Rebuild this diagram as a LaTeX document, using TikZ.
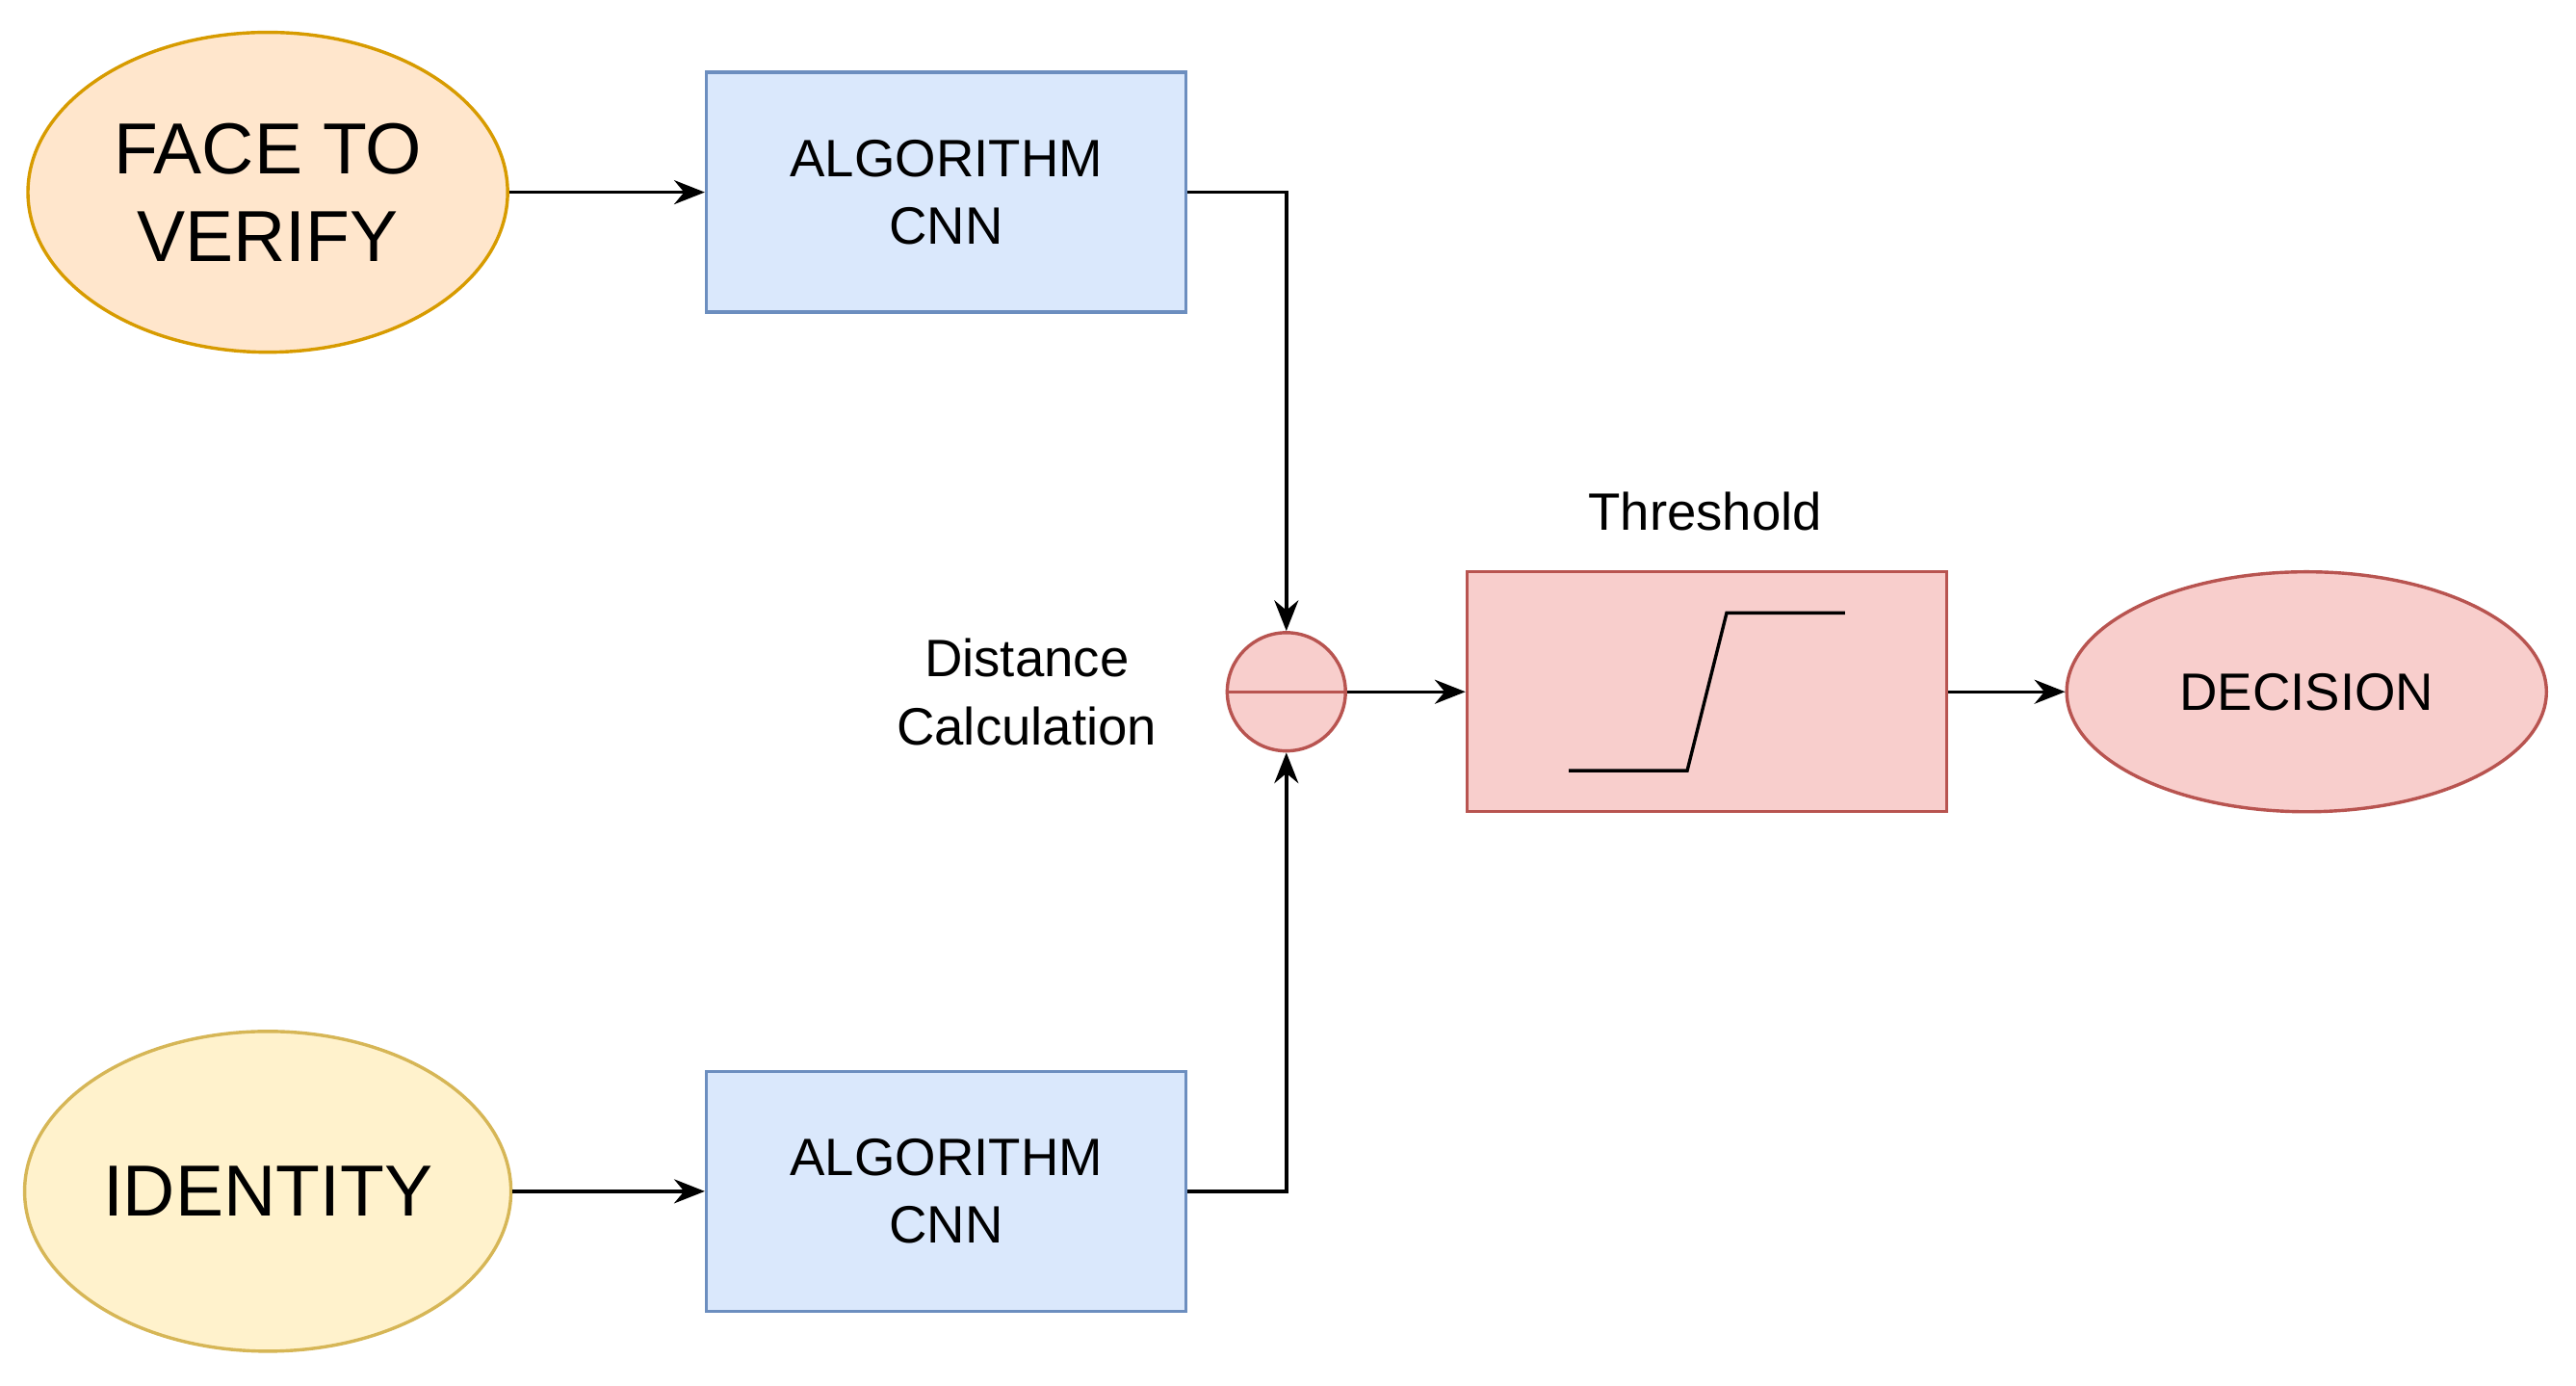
\documentclass[tikz,border=0pt]{standalone}
\usepackage{fontspec}
\setmainfont{Liberation Sans}
\usetikzlibrary{arrows.meta,shapes.geometric}
\definecolor{oF}{HTML}{FFE6CC}\definecolor{oS}{HTML}{D79B00}
\definecolor{yF}{HTML}{FFF2CC}\definecolor{yS}{HTML}{D6B656}
\definecolor{bF}{HTML}{DAE8FC}\definecolor{bS}{HTML}{6C8EBF}
\definecolor{rF}{HTML}{F8CECC}\definecolor{rS}{HTML}{B85450}
\begin{document}
\begin{tikzpicture}[x=0.75pt,y=-0.75pt,
 ell/.style={ellipse,draw,line width=1.5pt,minimum width=219pt,minimum height=146pt,align=center,font=\fontsize{33}{40}\selectfont},
 box/.style={rectangle,draw=bS,fill=bF,line width=1.5pt,minimum width=219pt,minimum height=109.5pt,align=center,font=\fontsize{24}{31}\selectfont},
 arr/.style={line width=1.5pt,-{Stealth[length=14pt,width=11pt]}},
 lbl/.style={font=\fontsize{24}{31}\selectfont,align=center}]
\useasboundingbox (0,0) rectangle (1568,843);
\node[ell,fill=oF,draw=oS] (face) at (163,117) {FACE TO\\VERIFY};
\node[ell,fill=yF,draw=yS] (id) at (163,725) {IDENTITY};
\node[box] (c1) at (576,117) {ALGORITHM\\CNN};
\node[box] (c2) at (576,725) {ALGORITHM\\CNN};
\node[circle,draw=rS,fill=rF,line width=1.5pt,minimum size=54pt,inner sep=0pt] (d) at (783,421) {};
\draw[rS,line width=1.5pt] (d.west) -- (d.east);
\node[rectangle,draw=rS,fill=rF,line width=1.5pt,minimum width=219pt,minimum height=109.5pt] (t) at (1039,421) {};
\node[ell,fill=rF,draw=rS,minimum height=109.5pt,font=\fontsize{24}{31}\selectfont] (dec) at (1404,421) {DECISION};
\node[lbl] (tl) at (1038,311) {Threshold};
\node[lbl] (dl) at (625,421) {Distance\\Calculation};
\coordinate (s1) at (955,469); \coordinate (s2) at (1027,469);
\coordinate (s3) at (1051,373); \coordinate (s4) at (1123,373);
\draw[line width=1.5pt] (s1) -- (s2) -- (s3) -- (s4);
\draw[arr] (face) -- (c1);
\draw[arr] (id) -- (c2);
\draw[arr] (c1.east) -| (d.north);
\draw[arr] (c2.east) -| (d.south);
\draw[arr] (d) -- (t);
\draw[arr] (t) -- (dec);
\end{tikzpicture}
\end{document}
